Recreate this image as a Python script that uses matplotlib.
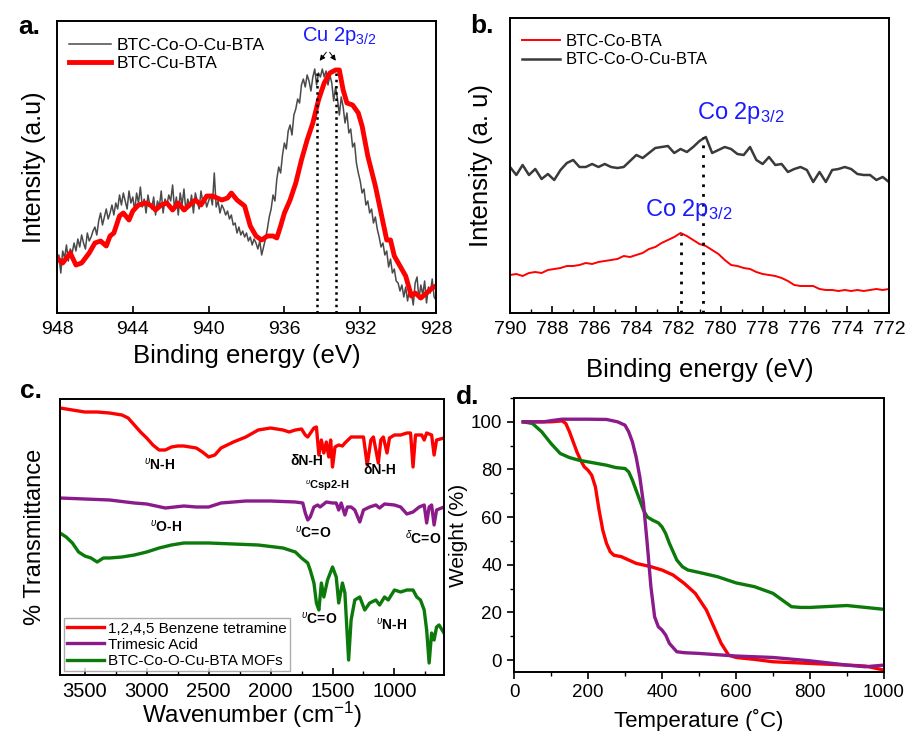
import numpy as np
import matplotlib
matplotlib.use('Agg')
import matplotlib.pyplot as plt
from matplotlib.ticker import MultipleLocator

plt.rcParams['font.family'] = ['Liberation Sans', 'DejaVu Sans']
plt.rcParams['mathtext.fontset'] = 'custom'
plt.rcParams['mathtext.rm'] = 'Liberation Sans'
plt.rcParams['mathtext.it'] = 'Liberation Sans:italic'
plt.rcParams['axes.linewidth'] = 1.4

# ---- panel a : Cu 2p XPS ----
a_grey_x = np.linspace(948, 928, 201)
a_grey_y = [47, 58, 40, 62, 55, 68, 52, 64, 60, 70,
            62, 74, 66, 78, 70, 64, 80, 72, 76, 82,
            86, 78, 92, 100, 88, 96, 104, 94, 100, 108,
            98, 110, 104, 118, 108, 120, 112, 104, 122, 110,
            116, 102, 120, 110, 126, 106, 114, 100, 118, 108,
            104, 116, 98, 112, 106, 122, 100, 114, 108, 118,
            112, 128, 104, 116, 98, 120, 108, 124, 102, 114,
            106, 118, 100, 120, 112, 104, 122, 110, 116, 106,
            112, 118, 108, 140, 106, 112, 100, 108, 104, 98,
            102, 94, 98, 88, 90, 80, 86, 78, 82, 76,
            80, 72, 76, 68, 74, 70, 64, 72, 58, 66,
            74, 84, 96, 104, 118, 112, 134, 146, 140, 158,
            170, 164, 182, 188, 178, 198, 204, 214, 210, 228,
            234, 226, 238, 232, 222, 236, 244, 228, 240, 236,
            244, 236, 242, 228, 238, 230, 212, 226, 214, 198,
            216, 206, 190, 200, 180, 184, 166, 170, 150, 140,
            132, 120, 124, 108, 112, 100, 104, 90, 96, 84,
            76, 66, 70, 58, 62, 46, 54, 40, 44, 32,
            30, 22, 28, 16, 26, 12, 24, 20, 8, 30,
            36, 14, 28, 18, 32, 10, 26, 20, 34, 16,
            13]
a_red_x = [948, 947.7, 947.3, 947, 946.7, 946.3, 946, 945.7, 945.4, 945.2, 945,
           944.7, 944.5, 944.2, 944, 943.7, 943.3, 943, 942.8, 942.5, 942.2,
           941.9, 941.6, 941.3, 941, 940.7, 940.4, 940.1, 939.8, 939.3, 939,
           938.8, 938.5, 938.1, 937.8, 937.5, 937.2, 936.9, 936.6, 936.4, 936.2,
           936, 935.7, 935.4, 935.1, 934.8, 934.5, 934.2, 933.9, 933.6, 933.3,
           933.1, 932.9, 932.7, 932.4, 932.1, 931.9, 931.6, 931.2, 930.9, 930.6,
           930.4, 930.2, 929.9, 929.6, 929.3, 929.1, 928.8, 928.5, 928.2, 928]
a_red_y = [55, 50, 60, 48, 50, 60, 70, 72, 67, 77, 80,
           97, 100, 93, 102, 108, 110, 107, 103, 108, 110,
           103, 110, 103, 108, 113, 108, 117, 117, 113, 115,
           120, 113, 107, 87, 77, 73, 77, 77, 75, 87,
           100, 113, 130, 153, 173, 190, 213, 230, 240, 243,
           243, 223, 210, 208, 200, 187, 157, 127, 100, 73,
           73, 57, 47, 37, 17, 20, 15, 20, 25, 27]
a_peaks = [934.3, 933.26]

# ---- panel b : Co 2p XPS ----
b_x = np.linspace(790, 772, 61)
b_red_y = [38, 39, 37, 40, 41, 40, 43, 44, 45, 47,
           47, 48, 50, 49, 51, 52, 53, 54, 57, 56,
           58, 60, 64, 66, 70, 73, 76, 80, 77, 73,
           69, 67, 63, 59, 53, 48, 47, 45, 44, 41,
           39, 38, 37, 35, 32, 28, 27, 27, 27, 24,
           23, 23, 22, 23, 22, 23, 22, 23, 24, 23, 24]
b_grey_y = [146, 138, 148, 138, 144, 134, 139, 133, 143, 150,
            153, 146, 146, 149, 146, 149, 146, 145, 146, 152,
            158, 155, 160, 165, 166, 167, 160, 164, 161, 166,
            172, 176, 160, 163, 166, 164, 159, 158, 166, 153,
            149, 156, 148, 149, 141, 144, 146, 143, 131, 141,
            131, 143, 144, 146, 144, 139, 138, 138, 133, 136, 131]
b_peaks = [781.9, 780.85]
b_peak_tops = [79, 176]

# ---- panel c : FTIR ----
c_red_x = [3700, 3600, 3500, 3400, 3300, 3200, 3150, 3100, 3050, 3000, 2950, 2900,
           2850, 2800, 2750, 2700, 2650, 2600, 2550, 2500, 2450, 2400, 2300, 2200,
           2100, 2000, 1900, 1850, 1800, 1750, 1720, 1700, 1650, 1630, 1610, 1590,
           1570, 1550, 1530, 1515, 1500, 1480, 1450, 1420, 1400, 1350, 1300, 1250,
           1220, 1190, 1170, 1130, 1110, 1090, 1060, 1040, 1000, 950, 900, 870,
           850, 830, 780, 760, 740, 700, 680, 660, 600]
c_red_y = [267, 265, 263, 263, 262, 260, 257, 250, 243, 237, 230, 225,
           225, 228, 229, 229, 228, 227, 223, 218, 220, 227, 233, 238,
           245, 247, 245, 243, 245, 246, 240, 238, 247, 248, 220, 235,
           222, 233, 218, 235, 208, 228, 230, 229, 232, 238, 238, 238,
           210, 235, 238, 212, 235, 238, 222, 237, 240, 240, 242, 242,
           208, 240, 240, 235, 242, 240, 220, 235, 237]
c_pur_x = [3700, 3500, 3300, 3100, 3000, 2850, 2700, 2600, 2500, 2400, 2200, 2000,
           1800, 1740, 1720, 1700, 1680, 1650, 1620, 1600, 1550, 1500, 1470, 1450,
           1430, 1400, 1380, 1350, 1320, 1280, 1250, 1200, 1150, 1120, 1080, 1000,
           950, 900, 850, 800, 760, 740, 720, 700, 680, 660, 600]
c_pur_y = [177, 176, 175, 172, 171, 167, 169, 168, 168, 172, 174, 174,
           173, 172, 162, 155, 158, 168, 170, 168, 173, 172, 172, 165,
           172, 160, 168, 168, 165, 153, 165, 168, 170, 167, 171, 170,
           168, 161, 163, 168, 170, 152, 168, 170, 150, 165, 168]
c_grn_x = [3700, 3650, 3600, 3550, 3500, 3450, 3400, 3350, 3300, 3200, 3100, 3000,
           2900, 2800, 2700, 2500, 2300, 2100, 1900, 1800, 1750, 1700, 1680, 1650,
           1630, 1610, 1590, 1570, 1540, 1500, 1470, 1450, 1420, 1400, 1370, 1350,
           1320, 1280, 1240, 1200, 1150, 1120, 1080, 1050, 1000, 950, 900, 850,
           820, 790, 760, 740, 720, 700, 680, 660, 640, 600]
c_grn_y = [142, 138, 132, 123, 119, 117, 113, 117, 117, 118, 120, 123,
           127, 130, 132, 132, 131, 130, 127, 123, 117, 112, 105, 92,
           72, 65, 92, 78, 95, 108, 98, 72, 92, 82, 15, 55,
           75, 78, 65, 72, 75, 70, 78, 75, 85, 83, 85, 85,
           78, 75, 65, 45, 12, 42, 35, 48, 50, 42]
c_labels = ['1,2,4,5 Benzene tetramine', 'Trimesic Acid', 'BTC-Co-O-Cu-BTA MOFs']

# ---- panel d : TGA ----
d_red_x = [25, 100, 130, 140, 150, 160, 170, 180, 190, 200, 210, 220, 230, 240, 250,
           260, 270, 290, 310, 330, 350, 370, 400, 430, 460, 490, 520, 540, 560,
           580, 600, 650, 700, 800, 900, 950, 1000]
d_red_y = [100, 100, 100.4, 99.3, 95.8, 91.6, 87.4, 83.9, 81.1, 79.7, 77.6, 72.7,
           62.9, 54.5, 49, 45.5, 44, 43.4, 42, 40.6, 39.9, 39.2, 37.8, 35.7, 32.2,
           28, 21, 14, 7, 2.1, 1.1, 0.3, -0.7, -1.4, -2.1, -2.5, -4.2]
d_pur_x = [25, 80, 110, 130, 200, 250, 280, 300, 310, 320, 330, 340, 350, 360, 370,
           380, 390, 400, 410, 420, 440, 460, 500, 600, 700, 800, 900, 950, 1000]
d_pur_y = [100, 100, 100.7, 101.1, 101.1, 101, 100, 98.6, 95.8, 91.6, 85.3, 76.9,
           65.7, 49, 30.8, 18.2, 14, 12.6, 10.5, 7, 3.5, 3.1, 2.8, 1.7, 1.1, -0.3,
           -2.1, -2.8, -2.1]
d_grn_x = [25, 50, 75, 100, 125, 150, 175, 200, 225, 250, 275, 300, 310, 320, 330,
           340, 350, 360, 375, 390, 400, 410, 420, 430, 440, 455, 470, 500, 550, 600,
           650, 700, 725, 750, 775, 800, 900, 950, 1000]
d_grn_y = [100, 99.3, 95.8, 90.9, 86.7, 85, 83.9, 83.2, 82.5, 81.8, 80.8, 80.4, 79,
           75.5, 71.3, 67.1, 62.9, 60.1, 58.7, 57.6, 55.9, 53.1, 49, 45.5, 42, 39.2,
           37.8, 36.8, 35, 32.4, 30.8, 28, 25.2, 22.4, 22.1, 22.1, 22.9, 22.1, 21.3]

RED = '#ff0000'
PURPLE = '#8b1a8b'
GREEN = '#0b7a0b'
BLUE = '#1a1aff'

fig = plt.figure(figsize=(9.07, 7.31), dpi=100)
W, H = 907, 731


def box(l, t, r, b):
    return [l / W, (H - b) / H, (r - l) / W, (b - t) / H]


# ----- a -----
ax = fig.add_axes(box(57, 21, 436, 313))
ax.plot(a_grey_x, a_grey_y, color='#4a4a4a', lw=1.1, label='BTC-Co-O-Cu-BTA')
ax.plot(a_red_x, a_red_y, color=RED, lw=3.5, label='BTC-Cu-BTA')
for p in a_peaks:
    ax.plot([p, p], [0, 243], color='black', lw=1.8, ls=(0, (1, 1.5)))
ax.annotate('', xy=(934.23, 250), xytext=(933.7, 263),
            arrowprops=dict(arrowstyle='-|>', color='black', lw=0.7, mutation_scale=8))
ax.annotate('', xy=(933.2, 250), xytext=(933.7, 263),
            arrowprops=dict(arrowstyle='-|>', color='black', lw=0.7, mutation_scale=8))
ax.text(933.1, 266, r'Cu 2p$_{3/2}$', color=BLUE, fontsize=14.5, ha='center', va='bottom')
ax.set_xlim(948, 928)
ax.set_ylim(0, 292)
ax.set_xticks([948, 944, 940, 936, 932, 928])
ax.set_yticks([])
ax.tick_params(axis='x', direction='in', length=5, width=1.2, labelsize=14, pad=6)
ax.set_xlabel('Binding energy (eV)', fontsize=18.5, labelpad=4)
ax.set_ylabel('Intensity (a.u)', fontsize=18, labelpad=8)
ax.legend(loc='upper left', bbox_to_anchor=(0.0, 0.985), frameon=False, fontsize=12.5,
          handlelength=2.4, handletextpad=0.35, labelspacing=0.2, borderaxespad=0.3)
fig.text(18 / W, 1 - 27 / H, 'a.', fontsize=19, fontweight='bold', va='center')

# ----- b -----
ax = fig.add_axes(box(510, 18, 889, 313))
ax.plot(b_x, b_red_y, color=RED, lw=1.4, label='BTC-Co-BTA')
ax.plot(b_x, b_grey_y, color='#3a3a3a', lw=1.8, label='BTC-Co-O-Cu-BTA')
for p, t in zip(b_peaks, b_peak_tops):
    ax.plot([p, p], [0, t], color='black', lw=2, ls=(0, (1, 2.5)))
ax.text(781.1, 200, r'Co 2p$_{3/2}$', color=BLUE, fontsize=17, ha='left', va='center')
ax.text(783.6, 103, r'Co 2p$_{3/2}$', color=BLUE, fontsize=17, ha='left', va='center')
ax.set_xlim(790, 772)
ax.set_ylim(0, 295)
ax.set_xticks(np.arange(790, 771, -2))
ax.xaxis.set_minor_locator(MultipleLocator(1))
ax.set_yticks([])
ax.tick_params(axis='x', which='major', direction='in', length=5, width=1.2, labelsize=14, pad=6)
ax.tick_params(axis='x', which='minor', direction='in', length=3, width=1)
ax.set_xlabel('Binding energy (eV)', fontsize=18.5, labelpad=14)
ax.set_ylabel('Intensity (a. u)', fontsize=18.5, labelpad=12)
ax.legend(loc='upper left', bbox_to_anchor=(0.0, 0.985), frameon=False, fontsize=12,
          handlelength=2.3, handletextpad=0.35, labelspacing=0.2, borderaxespad=0.3)
fig.text(470 / W, 1 - 26 / H, 'b.', fontsize=19, fontweight='bold', va='center')

# ----- c -----
ax = fig.add_axes(box(60, 399, 444, 675))
ax.plot(c_red_x, c_red_y, color=RED, lw=2.4, label=c_labels[0])
ax.plot(c_pur_x, c_pur_y, color=PURPLE, lw=2.4, label=c_labels[1])
ax.plot(c_grn_x, c_grn_y, color=GREEN, lw=2.4, label=c_labels[2])
ann = dict(fontsize=10, fontweight='bold', ha='center', va='center')
ax.text(2895, 210, r'$^{\upsilon}$N-H', **ann)
ax.text(1710, 214, 'δN-H', **ann)
ax.text(1121, 205, 'δN-H', **ann)
ax.text(1540, 189, r'$^{\upsilon}$Csp2-H', fontsize=8, fontweight='bold', ha='center', va='center')
ax.text(2847, 148, r'$^{\upsilon}$O-H', **ann)
ax.text(1653, 142, r'$^{\upsilon}$C=O', **ann)
ax.text(766, 137, r'$^{\delta}$C=O', **ann)
ax.text(1610, 56, r'$^{\upsilon}$C=O', **ann)
ax.text(1024, 50, r'$^{\upsilon}$N-H', **ann)
ax.set_xlim(3700, 600)
ax.set_ylim(0, 276)
ax.set_xticks([3500, 3000, 2500, 2000, 1500, 1000])
ax.xaxis.set_minor_locator(MultipleLocator(250))
ax.set_yticks([])
ax.tick_params(axis='x', which='major', direction='in', length=5, width=1.2, labelsize=14.5, pad=5)
ax.tick_params(axis='x', which='minor', direction='in', length=3, width=1)
ax.set_xlabel(r'Wavenumber (cm$^{-1}$)', fontsize=17.5, labelpad=-1)
ax.set_ylabel('% Transmittance', fontsize=17, labelpad=10)
leg = ax.legend(loc='lower left', frameon=True, fancybox=False, fontsize=11,
                handlelength=2.4, handletextpad=0.3, labelspacing=0.15,
                borderaxespad=0.25, borderpad=0.2)
leg.get_frame().set_edgecolor('#999999')
leg.get_frame().set_linewidth(1.0)
fig.text(20 / W, 1 - 391 / H, 'c.', fontsize=19, fontweight='bold', va='center')

# ----- d -----
ax = fig.add_axes(box(514, 398, 884, 672))
ax.plot(d_red_x, d_red_y, color=RED, lw=2.4)
ax.plot(d_grn_x, d_grn_y, color=GREEN, lw=2.4)
ax.plot(d_pur_x, d_pur_y, color=PURPLE, lw=2.4)
ax.set_xlim(0, 1000)
ax.set_ylim(-5, 110)
ax.set_xticks([0, 200, 400, 600, 800, 1000])
ax.set_yticks([0, 20, 40, 60, 80, 100])
ax.xaxis.set_minor_locator(MultipleLocator(100))
ax.yaxis.set_minor_locator(MultipleLocator(10))
ax.tick_params(which='major', direction='out', length=5, width=1.2, labelsize=13.5)
ax.tick_params(which='minor', direction='out', length=3, width=1)
ax.set_xlabel('Temperature (˚C)', fontsize=16, labelpad=6)
ax.set_ylabel('Weight (%)', fontsize=15, labelpad=2)
fig.text(456 / W, 1 - 397 / H, 'd.', fontsize=19, fontweight='bold', va='center')

fig.savefig('out.png', dpi=100)
